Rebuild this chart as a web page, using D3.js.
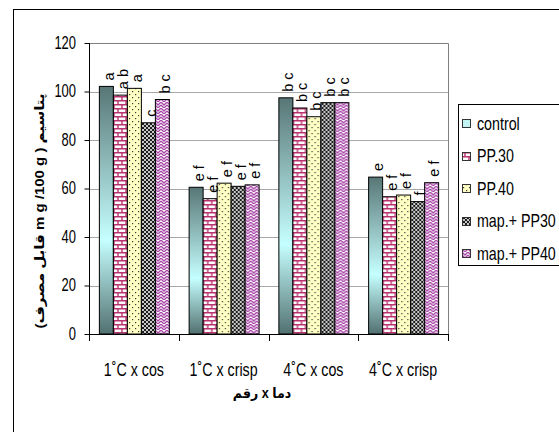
<!DOCTYPE html>
<html>
<head>
<meta charset="utf-8">
<script src="https://cdn.jsdelivr.net/npm/d3@7"></script>
<style>
  html, body { margin: 0; padding: 0; background: #fff; overflow: hidden; }
  svg { display: block; }
  text { font-family: "Liberation Sans", Arial, "DejaVu Sans", sans-serif; fill: #000; }
</style>
</head>
<body>
<svg id="chart" width="559" height="432"></svg>
<script>
// Potassium content by temperature x cultivar and packaging treatment
const categories = ["1˚C x cos", "1˚C x crisp", "4˚C x cos", "4˚C x crisp"];
const seriesNames = ["control", "PP.30", "PP.40", "map.+ PP30", "map.+ PP40"];

const controlValues = [102.1, 60.5, 97.4, 64.7];
const pp30Values    = [98.5, 55.8, 93.2, 56.6];
const pp40Values    = [101.3, 62.2, 89.6, 57.3];
const map30Values   = [87.1, 60.9, 95.4, 54.6];
const map40Values   = [96.7, 61.5, 95.4, 62.4];

const controlLetters = ["a", "e f", "b c", "e"];
const pp30Letters    = ["a b", "e f", "b c", "e f"];
const pp40Letters    = ["a", "e f", "b c", "e f"];
const map30Letters   = ["c", "e f", "b c", "f"];
const map40Letters   = ["b c", "e f", "b c", "e f"];

const yTicks = [0, 20, 40, 60, 80, 100, 120];
const yTitle = "\u200E(قابل مصرف m g /100 g ) پتاسیم";
const xTitle = "دما x رقم";

const seriesValues = [controlValues, pp30Values, pp40Values, map30Values, map40Values];
const seriesLetters = [controlLetters, pp30Letters, pp40Letters, map30Letters, map40Letters];

// layout
const plot = { left: 89, right: 448, top: 43, bottom: 334 };
const squeeze = 0.75;   // narrow type

const svg = d3.select("#chart");
const defs = svg.append("defs");

// outer frame
svg.append("rect")
  .attr("x", 13.5).attr("y", 9.5)
  .attr("width", 620).attr("height", 500)
  .attr("fill", "#fff").attr("stroke", "#000").attr("stroke-width", 1);

// ---------- fills ----------
const grad = defs.append("linearGradient")
  .attr("id", "fill-control")
  .attr("x1", 0).attr("y1", 0).attr("x2", 0).attr("y2", 1);
grad.append("stop").attr("offset", "0%").attr("stop-color", "#587676");
grad.append("stop").attr("offset", "62%").attr("stop-color", "#c6ffff");
grad.append("stop").attr("offset", "100%").attr("stop-color", "#527070");

// brick
const pBrick = defs.append("pattern")
  .attr("id", "fill-pp30").attr("patternUnits", "userSpaceOnUse")
  .attr("width", 8).attr("height", 8);
pBrick.append("rect").attr("width", 8).attr("height", 8).attr("fill", "#fff");
pBrick.append("path")
  .attr("d", "M0,0.75H8M0,4.75H8M1,0.75V4.75M5,4.75V8.75")
  .attr("stroke", "#b8336e").attr("stroke-width", 1.4).attr("fill", "none");

// dots on pale yellow
const pDots = defs.append("pattern")
  .attr("id", "fill-pp40").attr("patternUnits", "userSpaceOnUse")
  .attr("width", 6).attr("height", 6);
pDots.append("rect").attr("width", 6).attr("height", 6).attr("fill", "#ffffc4");
pDots.append("rect").attr("x", 1).attr("y", 1).attr("width", 1.2).attr("height", 1.2).attr("fill", "#3a3a3a");
pDots.append("rect").attr("x", 4).attr("y", 4).attr("width", 1.2).attr("height", 1.2).attr("fill", "#3a3a3a");

// dark trellis
const pTrellis = defs.append("pattern")
  .attr("id", "fill-map30").attr("patternUnits", "userSpaceOnUse")
  .attr("width", 4).attr("height", 4);
pTrellis.append("rect").attr("width", 4).attr("height", 4).attr("fill", "#1c1c1c");
pTrellis.append("path")
  .attr("d", "M0,0L4,4M4,0L0,4")
  .attr("stroke", "#f4f4f4").attr("stroke-width", 0.8).attr("fill", "none");

// purple zigzag
const pZig = defs.append("pattern")
  .attr("id", "fill-map40").attr("patternUnits", "userSpaceOnUse")
  .attr("width", 6).attr("height", 6);
pZig.append("rect").attr("width", 6).attr("height", 6).attr("fill", "#fff");
pZig.append("path")
  .attr("d", "M0,0L3,3L6,0M0,3L3,6L6,3")
  .attr("stroke", "#a846a8").attr("stroke-width", 1.3).attr("fill", "none");

const fills = ["url(#fill-control)", "url(#fill-pp30)", "url(#fill-pp40)", "url(#fill-map30)", "url(#fill-map40)"];
const legendFills = ["#c2f4f4", "url(#fill-pp30)", "url(#fill-pp40)", "url(#fill-map30)", "url(#fill-map40)"];

// ---------- scales ----------
const x0 = d3.scaleBand().domain(categories).range([plot.left, plot.right]).padding(0);
const groupPad = x0.bandwidth() * 0.11;
const x1 = d3.scaleBand().domain(d3.range(seriesNames.length))
  .range([groupPad, x0.bandwidth() - groupPad]).padding(0);
const y = d3.scaleLinear().domain([0, 120]).range([plot.bottom, plot.top]);

// plot area
svg.append("rect")
  .attr("x", plot.left).attr("y", plot.top)
  .attr("width", plot.right - plot.left).attr("height", plot.bottom - plot.top)
  .attr("fill", "#fff");

// gridlines
svg.append("g").selectAll("line")
  .data(yTicks.filter(t => t > 0))
  .join("line")
  .attr("x1", plot.left).attr("x2", plot.right)
  .attr("y1", d => Math.round(y(d)) + 0.5).attr("y2", d => Math.round(y(d)) + 0.5)
  .attr("stroke", "#a8a8a8").attr("stroke-width", 1);

// plot border (top/right)
svg.append("path")
  .attr("d", `M${plot.left},${Math.round(y(120)) + 0.5}H${plot.right + 0.5}V${plot.bottom}`)
  .attr("fill", "none").attr("stroke", "#808080").attr("stroke-width", 1);

// ---------- bars ----------
const groups = svg.append("g").selectAll("g")
  .data(categories)
  .join("g")
  .attr("transform", d => `translate(${x0(d)},0)`);

groups.each(function(cat, ci) {
  const g = d3.select(this);
  seriesNames.forEach((s, si) => {
    const v = seriesValues[si][ci];
    g.append("rect")
      .attr("x", x1(si) + 0.5)
      .attr("y", y(v))
      .attr("width", x1.bandwidth())
      .attr("height", y(0) - y(v))
      .attr("fill", fills[si])
      .attr("stroke", "#000").attr("stroke-width", 1);
  });
});

// significance letters
groups.each(function(cat, ci) {
  const g = d3.select(this);
  seriesNames.forEach((s, si) => {
    const v = seriesValues[si][ci];
    const cx = x1(si) + x1.bandwidth() / 2 + 3;
    const cy = y(v) - 6;
    g.append("text")
      .attr("transform", `translate(${cx},${cy}) rotate(-90)`)
      .attr("dy", "0.35em")
      .attr("text-anchor", "start")
      .style("font-size", "14.5px")
      .text(seriesLetters[si][ci]);
  });
});

// ---------- axes ----------
const yAxis = svg.append("g").attr("transform", `translate(${plot.left + 0.5},0)`)
  .call(d3.axisLeft(y).tickValues(yTicks).tickSize(5).tickFormat(""));
yAxis.select(".domain").attr("d", `M0,${y(120)}V${y(0)}`).attr("stroke", "#000");
yAxis.selectAll(".tick line").attr("stroke", "#000");

yTicks.forEach(t => {
  svg.append("text")
    .attr("transform", `translate(76,${y(t)}) scale(0.72,1)`)
    .attr("dy", "0.33em")
    .attr("text-anchor", "end")
    .style("font-size", "18px")
    .text(t);
});

const xAxis = svg.append("g").attr("transform", `translate(0,${plot.bottom + 0.5})`)
  .call(d3.axisBottom(x0).tickSize(0).tickFormat(""));
xAxis.select(".domain").attr("d", `M${plot.left},0H${plot.right}`).attr("stroke", "#000");
xAxis.selectAll(".tick").remove();

// category boundary ticks
const boundaries = categories.map(c => x0(c)).concat([x0(categories[categories.length - 1]) + x0.bandwidth()]);
svg.append("g").selectAll("line")
  .data(boundaries)
  .join("line")
  .attr("x1", d => Math.round(d) + 0.5).attr("x2", d => Math.round(d) + 0.5)
  .attr("y1", plot.bottom).attr("y2", plot.bottom + 7)
  .attr("stroke", "#000");

categories.forEach(c => {
  svg.append("text")
    .attr("transform", `translate(${x0(c) + x0.bandwidth() / 2},376) scale(${squeeze},1)`)
    .attr("text-anchor", "middle")
    .style("font-size", "19px")
    .text(c);
});

// axis titles
svg.append("text")
  .attr("transform", `translate(262,393) scale(0.9,1)`)
  .attr("dy", "0.35em")
  .attr("text-anchor", "middle")
  .attr("direction", "rtl")
  .style("font-size", "14px")
  .style("font-weight", "bold")
  .text(xTitle);

svg.append("text")
  .attr("transform", `translate(40,211) rotate(-90) scale(1,0.85)`)
  .attr("dy", "0.35em")
  .attr("text-anchor", "middle")
  .attr("direction", "ltr")
  .style("unicode-bidi", "isolate")
  .style("font-size", "15px")
  .style("font-weight", "bold")
  .text(yTitle);

// ---------- legend ----------
const legend = svg.append("g");
legend.append("rect")
  .attr("x", 458.5).attr("y", 104.5)
  .attr("width", 140).attr("height", 161)
  .attr("fill", "#fff").attr("stroke", "#000").attr("stroke-width", 1);

const legendY = d3.scalePoint().domain(seriesNames).range([123, 253]);
seriesNames.forEach((s, si) => {
  const cy = legendY(s);
  legend.append("rect")
    .attr("x", 462.5).attr("y", Math.round(cy - 4) + 0.5)
    .attr("width", 8).attr("height", 8)
    .attr("fill", legendFills[si])
    .attr("stroke", "#333").attr("stroke-width", 1);
  legend.append("text")
    .attr("transform", `translate(477,${cy}) scale(0.75,1)`)
    .attr("dy", "0.35em")
    .style("font-size", "19px")
    .text(s);
});
</script>
</body>
</html>
